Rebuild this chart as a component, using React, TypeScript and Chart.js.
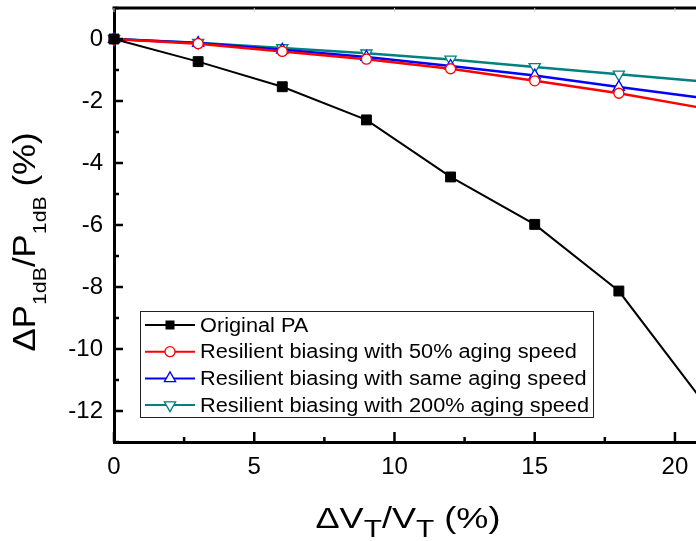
import React, { useEffect, useRef } from "react";
import { Chart, registerables } from "chart.js";

Chart.register(...registerables);

const X_VALUES = [0, 3, 6, 9, 12, 15, 18, 21];
const ORIGINAL_PA = [0, -0.73, -1.54, -2.61, -4.45, -5.98, -8.13, -11.7];
const RES_50 = [0, -0.15, -0.4, -0.65, -0.96, -1.35, -1.75, -2.23];
const RES_SAME = [0, -0.13, -0.35, -0.58, -0.87, -1.18, -1.55, -1.9];
const RES_200 = [0, -0.12, -0.29, -0.46, -0.66, -0.9, -1.14, -1.37];

const SERIES_NAMES = [
  "Original PA",
  "Resilient biasing with 50% aging speed",
  "Resilient biasing with same aging speed",
  "Resilient biasing with 200% aging speed",
];
const SERIES_COLORS = ["#000000", "#ff0000", "#0000ff", "#008080"];
const SERIES_MARKERS = ["rect", "circle", "triangle", "triangleDown"];

const X_TICKS = [0, 5, 10, 15, 20];
const X_MINOR = [2.5, 7.5, 12.5, 17.5];
const Y_TICKS = [0, -2, -4, -6, -8, -10, -12];
const Y_MINOR = [1, -1, -3, -5, -7, -9, -11, -13];

const FONT = "'Liberation Sans', Arial, sans-serif";

function drawMarker(ctx: CanvasRenderingContext2D, kind: string, x: number, y: number, color: string) {
  ctx.save();
  ctx.lineWidth = 1.3;
  ctx.strokeStyle = color;
  ctx.fillStyle = "#ffffff";
  ctx.beginPath();
  if (kind === "rect") {
    ctx.fillStyle = color;
    ctx.rect(x - 4.5, y - 4.5, 9, 9);
    ctx.fill();
  } else if (kind === "circle") {
    ctx.arc(x, y, 5, 0, Math.PI * 2);
    ctx.fill();
    ctx.stroke();
  } else if (kind === "triangle") {
    const r = 6.5;
    ctx.moveTo(x, y - r);
    ctx.lineTo(x + r * 0.866, y + r * 0.5);
    ctx.lineTo(x - r * 0.866, y + r * 0.5);
    ctx.closePath();
    ctx.fill();
    ctx.stroke();
  } else {
    const r = 6.5;
    ctx.moveTo(x, y + r);
    ctx.lineTo(x + r * 0.866, y - r * 0.5);
    ctx.lineTo(x - r * 0.866, y - r * 0.5);
    ctx.closePath();
    ctx.fill();
    ctx.stroke();
  }
  ctx.restore();
}

type Seg = { t: string; size: number; dy: number };

// draws segments centred on cx, stretched horizontally to the target width
function drawRich(
  ctx: CanvasRenderingContext2D,
  segs: Seg[],
  cx: number,
  baseline: number,
  targetWidth: number
) {
  let total = 0;
  const widths = segs.map((s) => {
    ctx.font = `${s.size}px ${FONT}`;
    const w = ctx.measureText(s.t).width;
    total += w;
    return w;
  });
  const k = targetWidth / total;
  ctx.save();
  ctx.translate(cx - targetWidth / 2, baseline);
  ctx.scale(k, 1);
  let x = 0;
  ctx.textBaseline = "alphabetic";
  ctx.textAlign = "left";
  ctx.fillStyle = "#000";
  segs.forEach((s, i) => {
    ctx.font = `${s.size}px ${FONT}`;
    ctx.fillText(s.t, x, s.dy);
    x += widths[i];
  });
  ctx.restore();
}

const decorPlugin = {
  id: "decor",
  afterDatasetsDraw(chart: any) {
    const ctx: CanvasRenderingContext2D = chart.ctx;
    const { left, right, top, bottom } = chart.chartArea;
    const xs = chart.scales.x;
    const ys = chart.scales.y;
    ctx.save();
    // top and right frame
    ctx.strokeStyle = "#000";
    ctx.lineWidth = 3;
    ctx.beginPath();
    ctx.moveTo(left - 1.5, top);
    ctx.lineTo(right, top);
    ctx.lineTo(right, bottom);
    ctx.stroke();
    // inward ticks
    ctx.lineWidth = 2.5;
    ctx.beginPath();
    X_TICKS.forEach((v) => {
      const px = xs.getPixelForValue(v);
      ctx.moveTo(px, bottom);
      ctx.lineTo(px, bottom - 10);
    });
    X_MINOR.forEach((v) => {
      const px = xs.getPixelForValue(v);
      ctx.moveTo(px, bottom);
      ctx.lineTo(px, bottom - 5);
    });
    Y_TICKS.forEach((v) => {
      const py = ys.getPixelForValue(v);
      ctx.moveTo(left, py);
      ctx.lineTo(left + 9, py);
    });
    Y_MINOR.forEach((v) => {
      const py = ys.getPixelForValue(v);
      ctx.moveTo(left, py);
      ctx.lineTo(left + 5, py);
    });
    ctx.stroke();
    // faint top ticks
    ctx.strokeStyle = "#cfcfcf";
    ctx.lineWidth = 1;
    ctx.beginPath();
    X_TICKS.forEach((v) => {
      const px = xs.getPixelForValue(v);
      ctx.moveTo(px, top);
      ctx.lineTo(px, top + 4);
    });
    ctx.stroke();

    // legend
    const lx = 140, ly = 311, lw = 453, lh = 106;
    ctx.fillStyle = "#ffffff";
    ctx.fillRect(lx, ly, lw, lh);
    ctx.strokeStyle = "#222";
    ctx.lineWidth = 1;
    ctx.strokeRect(lx + 0.5, ly + 0.5, lw, lh);
    ctx.font = `20px ${FONT}`;
    const longest = Math.max(...SERIES_NAMES.map((n) => ctx.measureText(n).width));
    const k = 389 / longest;
    SERIES_NAMES.forEach((name, i) => {
      const y = 325 + i * 26.7;
      ctx.strokeStyle = SERIES_COLORS[i];
      ctx.lineWidth = 2;
      ctx.beginPath();
      ctx.moveTo(145, y);
      ctx.lineTo(195, y);
      ctx.stroke();
      drawMarker(ctx, SERIES_MARKERS[i], 170, y, SERIES_COLORS[i]);
      ctx.save();
      ctx.translate(200, y + 1);
      ctx.scale(k, 1);
      ctx.fillStyle = "#000";
      ctx.font = `20px ${FONT}`;
      ctx.textBaseline = "middle";
      ctx.textAlign = "left";
      ctx.fillText(name, 0, 0);
      ctx.restore();
    });

    // x title
    drawRich(
      ctx,
      [
        { t: "\u0394V", size: 29, dy: 0 },
        { t: "T", size: 24, dy: 9 },
        { t: "/V", size: 29, dy: 0 },
        { t: "T", size: 24, dy: 9 },
        { t: " (%)", size: 29, dy: 0 },
      ],
      408,
      528,
      185
    );
    // y title
    ctx.save();
    ctx.translate(35, 242);
    ctx.rotate(-Math.PI / 2);
    drawRich(
      ctx,
      [
        { t: "\u0394P", size: 31, dy: 0 },
        { t: "1dB", size: 19, dy: 11 },
        { t: "/P", size: 31, dy: 0 },
        { t: "1dB", size: 19, dy: 11 },
        { t: " (%)", size: 31, dy: 0 },
      ],
      0,
      0,
      219
    );
    ctx.restore();
    ctx.restore();
  },
};

export default function App() {
  const ref = useRef<HTMLCanvasElement>(null);
  useEffect(() => {
    if (!ref.current) return;
    const seriesData = [ORIGINAL_PA, RES_50, RES_SAME, RES_200];
    const chart = new Chart(ref.current, {
      type: "line",
      data: {
        datasets: seriesData.map((vals, i) => ({
          label: SERIES_NAMES[i],
          data: X_VALUES.map((x, j) => ({ x, y: vals[j] })),
          borderColor: SERIES_COLORS[i],
          backgroundColor: i === 0 ? SERIES_COLORS[i] : "#ffffff",
          borderWidth: i === 0 ? 2 : 2.5,
          pointStyle: i === 0 ? "rect" : i === 1 ? "circle" : "triangle",
          pointRotation: i === 3 ? 180 : 0,
          pointRadius: i === 0 ? 7 : i === 1 ? 5 : 6.5,
          pointBorderWidth: i === 0 ? 1 : 1.3,
          pointBackgroundColor: i === 0 ? SERIES_COLORS[i] : "#ffffff",
          pointBorderColor: SERIES_COLORS[i],
          tension: 0,
          clip: false as any,
        })),
      },
      options: {
        responsive: false,
        animation: false,
        devicePixelRatio: 1,
        layout: { padding: { left: 0, top: 7, right: 17, bottom: 0 } },
        plugins: { legend: { display: false }, tooltip: { enabled: false } },
        scales: {
          x: {
            type: "linear",
            min: 0,
            max: 21,
            afterBuildTicks: (s: any) => {
              s.ticks = X_TICKS.map((v) => ({ value: v }));
            },
            afterFit: (s: any) => {
              s.height = 99;
              s.paddingLeft = 0;
              s.paddingRight = 0;
            },
            ticks: {
              font: { family: FONT, size: 24 },
              color: "#000",
              padding: 11,
              maxRotation: 0,
            },
            grid: { drawOnChartArea: false, drawTicks: false },
            border: { display: true, color: "#000", width: 3 },
          },
          y: {
            type: "linear",
            min: -13,
            max: 1,
            afterBuildTicks: (s: any) => {
              s.ticks = Y_TICKS.map((v) => ({ value: v }));
            },
            afterFit: (s: any) => {
              s.width = 114;
              s.paddingTop = 0;
              s.paddingBottom = 0;
            },
            ticks: {
              font: { family: FONT, size: 24 },
              color: "#000",
              padding: 11,
            },
            grid: { drawOnChartArea: false, drawTicks: false },
            border: { display: true, color: "#000", width: 3 },
          },
        },
      },
      plugins: [decorPlugin],
    });
    return () => chart.destroy();
  }, []);
  return (
    <div
      style={{
        position: "fixed",
        left: 0,
        top: 0,
        width: 696,
        height: 541,
        overflow: "hidden",
        background: "#fff",
      }}
    >
      <canvas ref={ref} width={720} height={541} style={{ display: "block" }} />
    </div>
  );
}
